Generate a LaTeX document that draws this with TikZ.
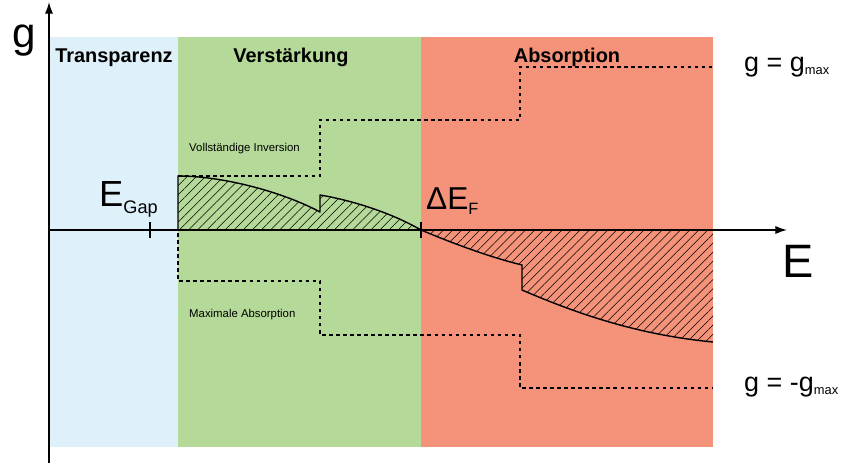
\documentclass[tikz,border=0pt]{standalone}
\usepackage{fontspec}
\setmainfont{Liberation Sans}
\usetikzlibrary{arrows.meta,patterns.meta}
\definecolor{transblue}{HTML}{DEF0F9}
\definecolor{gaingreen}{HTML}{B5D999}
\definecolor{absred}{HTML}{F4927A}
\newcommand{\lowsub}[3]{\raisebox{-#1}{\fontsize{#2}{#2}\selectfont #3}}

\begin{document}
\begin{tikzpicture}[x=0.03cm, y=-0.03cm, every node/.style={inner sep=0pt},
    header/.style={font=\bfseries\fontsize{17}{20}\selectfont, anchor=base},
    small/.style={font=\fontsize{9.7}{11}\selectfont, anchor=base west},
    hatch/.style={pattern={Lines[angle=45,distance=5.5pt,line width=0.45pt]}},
    curve/.style={line width=1.2pt, line join=round},
    limit/.style={line width=1.1pt, dash pattern=on 3pt off 3pt}]
\useasboundingbox (0,0) rectangle (842,464);
% Draw regions
\fill[transblue] (50,37) rectangle (178,447);
\fill[gaingreen] (178,37) rectangle (421,447);
\fill[absred] (421,37) rectangle (713,447);
\node[header] (transp) at (114,62) {Transparenz};
\node[header] (verst) at (291,62) {Verstärkung};
\node[header] (absorp) at (567,62) {Absorption};
% Draw hatched gain
\fill[hatch] (178,230) -- (178,176) .. controls (225,176) and (285,193) .. (320,212)
    -- (320,195) .. controls (350,200) and (390,212) .. (421,230) -- cycle;
\draw[curve] (178,230) -- (178,176) .. controls (225,176) and (285,193) .. (320,212)
    -- (320,195) .. controls (350,200) and (390,212) .. (421,230);
\fill[hatch] (421,230) .. controls (445,240) and (485,256) .. (522,265)
    -- (522,290) .. controls (580,315) and (640,335) .. (713,342) -- (713,230) -- cycle;
\draw[curve] (421,230) .. controls (445,240) and (485,256) .. (522,265)
    -- (522,290) .. controls (580,315) and (640,335) .. (713,342);
% Draw limits
\draw[limit] (178,176) -- (320,176) -- (320,120) -- (520,120) -- (520,67) -- (713,67);
\draw[limit] (178,233) -- (178,281) -- (320,281) -- (320,335) -- (520,335) -- (520,388) -- (713,388);
\node[small] (inv) at (189,151) {Vollständige Inversion};
\node[small] (maxabs) at (189,317) {Maximale Absorption};
% Draw axes
\coordinate (origin) at (49,230);
\coordinate (xend) at (787,230);
\coordinate (ybot) at (49,463);
\coordinate (yend) at (49,2);
\draw[-{Latex[length=10pt,width=7pt]}, line width=1.2pt] (origin) -- (xend);
\draw[-{Latex[length=10pt,width=7pt]}, line width=1.2pt] (ybot) -- (yend);
\node[anchor=base west, font=\fontsize{36}{36}\selectfont] (glabel) at (12,47) {g};
\node[anchor=base west, font=\fontsize{40}{40}\selectfont] (elabel) at (782,277) {E};
% Draw tick marks
\foreach \x in {150,421}
    \draw[line width=1.2pt] (\x,222) -- (\x,238);
\node[anchor=base west, font=\fontsize{31}{31}\selectfont] (egap) at (99,206) {E\lowsub{6pt}{15.5}{Gap}};
\node[anchor=base west, font=\fontsize{27}{27}\selectfont] (ef) at (426,209) {ΔE\lowsub{5pt}{14}{F}};
\node[anchor=base west, font=\fontsize{23}{23}\selectfont] (gmax) at (744,71) {g = g\lowsub{3pt}{11}{max}};
\node[anchor=base west, font=\fontsize{23}{23}\selectfont] (gmin) at (744,391) {g = -g\lowsub{3pt}{11}{max}};
\end{tikzpicture}
\end{document}
